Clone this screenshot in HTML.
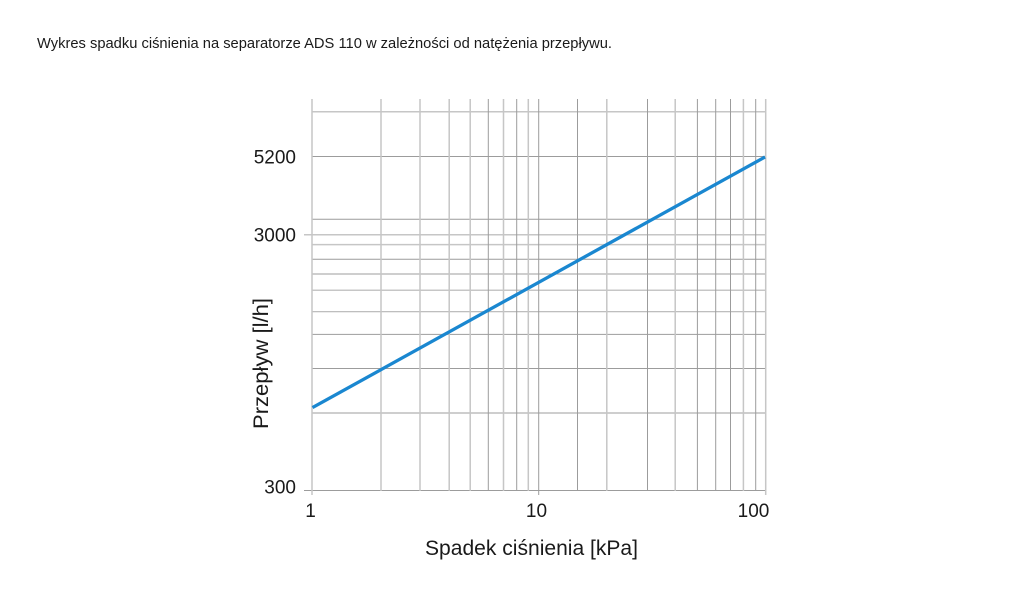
<!DOCTYPE html>
<html>
<head>
<meta charset="utf-8">
<style>
  html, body { margin: 0; padding: 0; background: #ffffff; }
  body { width: 1020px; height: 595px; overflow: hidden; }
  svg { display: block; }
  text { font-family: "Liberation Sans", "DejaVu Sans", sans-serif; fill: #1a1a1a; }
</style>
</head>
<body>
<svg width="1020" height="595" viewBox="0 0 1020 595" xmlns="http://www.w3.org/2000/svg">
  <rect x="0" y="0" width="1020" height="595" fill="#ffffff"/>

  <!-- Title -->
  <text x="37" y="48" font-size="15" textLength="575" lengthAdjust="spacingAndGlyphs">Wykres spadku ciśnienia na separatorze ADS 110 w zależności od natężenia przepływu.</text>

  <!-- Horizontal grid lines -->
  <g fill="none">
    <line x1="312" y1="111.7" x2="766" y2="111.7" stroke="#c6c6c6" stroke-width="1.5"/>
    <line x1="312" y1="156.5" x2="766" y2="156.5" stroke="#9c9c9c" stroke-width="1"/>
    <line x1="312" y1="219.3" x2="766" y2="219.3" stroke="#9c9c9c" stroke-width="1"/>
    <line x1="304" y1="234.8" x2="766" y2="234.8" stroke="#c6c6c6" stroke-width="1.5"/>
    <line x1="312" y1="244.6" x2="766" y2="244.6" stroke="#c6c6c6" stroke-width="1.5"/>
    <line x1="312" y1="259.2" x2="766" y2="259.2" stroke="#9c9c9c" stroke-width="1"/>
    <line x1="312" y1="274" x2="766" y2="274" stroke="#9c9c9c" stroke-width="1"/>
    <line x1="312" y1="290.2" x2="766" y2="290.2" stroke="#b4b4b4" stroke-width="1.2"/>
    <line x1="312" y1="311.7" x2="766" y2="311.7" stroke="#b4b4b4" stroke-width="1.2"/>
    <line x1="312" y1="334.4" x2="766" y2="334.4" stroke="#a8a8a8" stroke-width="1.1"/>
    <line x1="312" y1="368.5" x2="766" y2="368.5" stroke="#9c9c9c" stroke-width="1"/>
    <line x1="312" y1="413" x2="766" y2="413" stroke="#9c9c9c" stroke-width="1"/>
    <line x1="304" y1="490.5" x2="766" y2="490.5" stroke="#9c9c9c" stroke-width="1"/>
  </g>

  <!-- Vertical grid lines -->
  <g fill="none">
    <line x1="312" y1="99" x2="312" y2="495" stroke="#c6c6c6" stroke-width="1.5"/>
    <line x1="381" y1="99" x2="381" y2="491" stroke="#c6c6c6" stroke-width="1.5"/>
    <line x1="420" y1="99" x2="420" y2="491" stroke="#c6c6c6" stroke-width="1.5"/>
    <line x1="449.2" y1="99" x2="449.2" y2="491" stroke="#c6c6c6" stroke-width="1.5"/>
    <line x1="470.2" y1="99" x2="470.2" y2="491" stroke="#c6c6c6" stroke-width="1.5"/>
    <line x1="488.3" y1="99" x2="488.3" y2="491" stroke="#9c9c9c" stroke-width="1"/>
    <line x1="503.5" y1="99" x2="503.5" y2="491" stroke="#c6c6c6" stroke-width="1.5"/>
    <line x1="516.7" y1="99" x2="516.7" y2="491" stroke="#9c9c9c" stroke-width="1"/>
    <line x1="528.3" y1="99" x2="528.3" y2="491" stroke="#c6c6c6" stroke-width="1.5"/>
    <line x1="538.7" y1="99" x2="538.7" y2="495" stroke="#9c9c9c" stroke-width="1"/>
    <line x1="577.5" y1="99" x2="577.5" y2="491" stroke="#9c9c9c" stroke-width="1"/>
    <line x1="606.8" y1="99" x2="606.8" y2="491" stroke="#c6c6c6" stroke-width="1.5"/>
    <line x1="647.5" y1="99" x2="647.5" y2="491" stroke="#9c9c9c" stroke-width="1"/>
    <line x1="675.2" y1="99" x2="675.2" y2="491" stroke="#c6c6c6" stroke-width="1.5"/>
    <line x1="697.4" y1="99" x2="697.4" y2="491" stroke="#9c9c9c" stroke-width="1"/>
    <line x1="715.7" y1="99" x2="715.7" y2="491" stroke="#9c9c9c" stroke-width="1"/>
    <line x1="730.5" y1="99" x2="730.5" y2="491" stroke="#9c9c9c" stroke-width="1"/>
    <line x1="743.4" y1="99" x2="743.4" y2="491" stroke="#c6c6c6" stroke-width="1.5"/>
    <line x1="755.7" y1="99" x2="755.7" y2="491" stroke="#9c9c9c" stroke-width="1"/>
    <line x1="765.7" y1="99" x2="765.7" y2="495" stroke="#c6c6c6" stroke-width="1.5"/>
  </g>

  <!-- Data line -->
  <line x1="312.5" y1="407.6" x2="765" y2="157" stroke="#1a87d0" stroke-width="3.3" stroke-linecap="butt"/>

  <!-- Y tick labels -->
  <text x="296" y="163.5" font-size="19" text-anchor="end">5200</text>
  <text x="296" y="241.7" font-size="19" text-anchor="end">3000</text>
  <text x="296" y="493.5" font-size="19" text-anchor="end">300</text>

  <!-- X tick labels -->
  <text x="310.5" y="517" font-size="19" text-anchor="middle">1</text>
  <text x="536.5" y="517" font-size="19" text-anchor="middle">10</text>
  <text x="753.5" y="517" font-size="19" text-anchor="middle">100</text>

  <!-- Axis titles -->
  <text x="425" y="555" font-size="21" textLength="213" lengthAdjust="spacingAndGlyphs">Spadek ciśnienia [kPa]</text>
  <text transform="translate(268,429) rotate(-90)" x="0" y="0" font-size="21" textLength="131" lengthAdjust="spacingAndGlyphs">Przepływ [l/h]</text>
</svg>
</body>
</html>
